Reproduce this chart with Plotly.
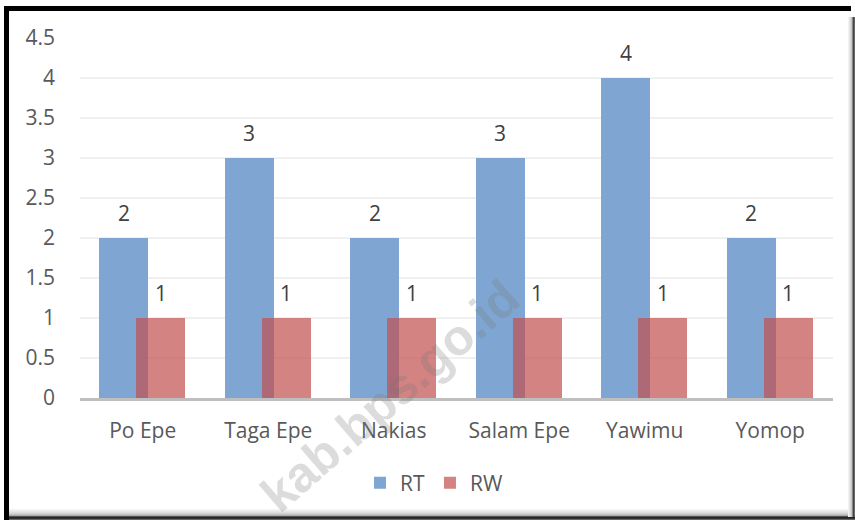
import plotly.graph_objects as go

categories = ["Po Epe", "Taga Epe", "Nakias", "Salam Epe", "Yawimu", "Yomop"]
rt_values = [2, 3, 2, 3, 4, 2]
rw_values = [1, 1, 1, 1, 1, 1]
y_ticks = [0, 0.5, 1, 1.5, 2, 2.5, 3, 3.5, 4, 4.5]
y_tick_labels = ["0", "0.5", "1", "1.5", "2", "2.5", "3", "3.5", "4", "4.5"]

W, H = 855, 520
L, R, T, B = 80, 22, 38, 122
PW, PH = W - L - R, H - T - B

def px(x):
    return (x - L) / PW

def py(y):
    return (H - B - y) / PH

FONT = "Open Sans"
TXT = "#595959"

fig = go.Figure()
fig.add_trace(go.Bar(
    x=categories, y=rt_values, name="RT",
    marker=dict(color="#7FA6D2", line=dict(width=0)),
    width=0.39, offset=-0.345,
))
fig.add_trace(go.Bar(
    x=categories, y=rw_values, name="RW",
    marker=dict(color="rgba(192,80,77,0.70)", line=dict(width=0)),
    width=0.39, offset=-0.05,
))

annotations = []
for c, v in zip(categories, rt_values):
    annotations.append(dict(x=c, y=v, xref="x", yref="y", text=str(v), showarrow=False,
                            xshift=-19, yshift=9, yanchor="bottom",
                            font=dict(family=FONT, size=21, color="#404040")))
for c, v in zip(categories, rw_values):
    annotations.append(dict(x=c, y=v, xref="x", yref="y", text=str(v), showarrow=False,
                            xshift=18, yshift=9, yanchor="bottom",
                            font=dict(family=FONT, size=21, color="#404040")))

# watermark
annotations.append(dict(x=px(390), y=py(396), xref="paper", yref="paper",
                        xanchor="center", yanchor="middle",
                        text="<b>kab.bps.go.id</b>", showarrow=False, textangle=-41,
                        font=dict(family="Liberation Sans", size=50, color="rgba(120,120,120,0.26)")))

shapes = []
# frame: top and left black bands
shapes.append(dict(type="rect", xref="paper", yref="paper", x0=px(4), x1=px(851), y0=py(6), y1=py(11),
                   fillcolor="black", line=dict(width=0), layer="above"))
shapes.append(dict(type="rect", xref="paper", yref="paper", x0=px(4), x1=px(9), y0=py(6), y1=py(520),
                   fillcolor="black", line=dict(width=0), layer="above"))
# bottom and right shadow bands
bottom_cols = ["#f4f4f4", "#eeeeee", "#e6e6e6", "#dddddd", "#d2d2d2", "#c4c4c4", "#a9a9a9", "#555555", "#222222", "#333333", "#666666"]
for i, col in enumerate(bottom_cols):
    y0 = 509 + i
    shapes.append(dict(type="rect", xref="paper", yref="paper", x0=px(9), x1=px(855), y0=py(y0), y1=py(y0 + 1),
                       fillcolor=col, line=dict(width=0), layer="above"))
right_cols = ["#f2f2f2", "#e6e6e6", "#d8d8d8", "#c6c6c6", "#8a8a8a", "#444444", "#666666"]
for i, col in enumerate(right_cols):
    x0 = 848 + i
    shapes.append(dict(type="rect", xref="paper", yref="paper", x0=px(x0), x1=px(x0 + 1), y0=py(17), y1=py(517),
                       fillcolor=col, line=dict(width=0), layer="above"))

fig.update_layout(
    width=W, height=H,
    margin=dict(l=L, r=R, t=T, b=B, autoexpand=False),
    paper_bgcolor="white", plot_bgcolor="white",
    barmode="overlay",
    bargap=0,
    showlegend=True,
    legend=dict(orientation="h", x=px(434), y=py(483), xanchor="center", yanchor="middle",
                font=dict(family=FONT, size=21, color=TXT), itemsizing="constant",
                traceorder="normal", bgcolor="rgba(0,0,0,0)"),
    annotations=annotations,
    shapes=shapes,
    xaxis=dict(showgrid=False, showline=True, linecolor="#BFBFBF", linewidth=3,
               ticks="", tickfont=dict(family=FONT, size=21, color=TXT), ticklabelstandoff=12,
               fixedrange=True),
    yaxis=dict(range=[0, 4.5], tickvals=y_ticks, ticktext=y_tick_labels,
               showgrid=True, gridcolor="#F0F0F0", gridwidth=2, zeroline=False, showline=False,
               ticks="", tickfont=dict(family=FONT, size=21, color=TXT), ticklabelstandoff=24,
               fixedrange=True),
)

fig.write_html("out.html", config={"displayModeBar": False},
               post_script="document.body.style.margin='0';document.body.style.overflow='hidden';")
